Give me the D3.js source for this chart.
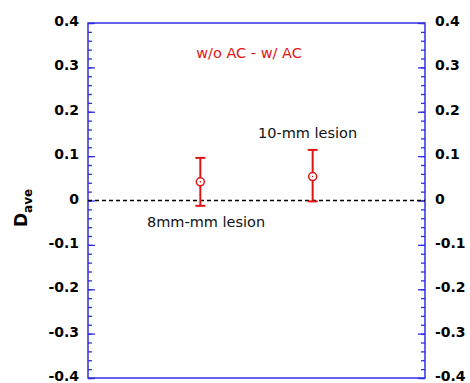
<!DOCTYPE html>
<html><head><meta charset="utf-8">
<script src="https://d3js.org/d3.v7.min.js"></script>
<style>body{margin:0;background:#fff}svg{display:block}</style>
</head><body>
<script>
const categories = ["8mm-mm lesion", "10-mm lesion"];
const xPositions = [1, 2];
const meanValues = [0.042, 0.054];
const upperValues = [0.096, 0.114];
const lowerValues = [-0.012, -0.002];
const yTicks = [0.4, 0.3, 0.2, 0.1, 0, -0.1, -0.2, -0.3, -0.4];
const yTickLabels = ["0.4", "0.3", "0.2", "0.1", "0", "-0.1", "-0.2", "-0.3", "-0.4"];
const titleText = "w/o AC - w/ AC";

const W = 470, H = 383;
const m = {l: 88, r: 425, t: 23, b: 378};
const svg = d3.select("body").append("svg").attr("width", W).attr("height", H);
const x = d3.scaleLinear().domain([0, 3]).range([m.l, m.r]);
const y = d3.scaleLinear().domain([-0.4, 0.4]).range([m.b, m.t]);
const blue = "#2f2fe6", red = "#e01414";
const font = "'DejaVu Sans', sans-serif";

// minor ticks
const minor = d3.range(-0.4, 0.4001, 0.02);
const axL = d3.axisRight(y).tickValues(minor).tickSize(4).tickFormat("");
const axR = d3.axisLeft(y).tickValues(minor).tickSize(4).tickFormat("");
const axLM = d3.axisRight(y).tickValues(yTicks).tickSize(7).tickFormat("");
const axRM = d3.axisLeft(y).tickValues(yTicks).tickSize(7).tickFormat("");
[[axL, m.l], [axLM, m.l], [axR, m.r], [axRM, m.r]].forEach(([a, px]) => {
  const g = svg.append("g").attr("transform", `translate(${px},0)`).call(a);
  g.select(".domain").remove();
  g.selectAll("line").attr("stroke", blue).attr("stroke-width", 1.3);
});

// frame
svg.append("rect").attr("x", m.l).attr("y", m.t).attr("width", m.r - m.l).attr("height", m.b - m.t)
  .attr("fill", "none").attr("stroke", blue).attr("stroke-width", 1.5);

// tick labels
yTicks.forEach((v, i) => {
  svg.append("text").attr("x", m.l - 9).attr("y", y(v) + 3).attr("text-anchor", "end")
    .attr("font-family", font).attr("font-weight", "bold").attr("font-size", 14).text(yTickLabels[i]);
  svg.append("text").attr("x", m.r + 10).attr("y", y(v) + 3).attr("text-anchor", "start")
    .attr("font-family", font).attr("font-weight", "bold").attr("font-size", 14).text(yTickLabels[i]);
});

// zero dashed line
svg.append("line").attr("x1", x(0)).attr("x2", x(3)).attr("y1", y(0)).attr("y2", y(0))
  .attr("stroke", "#000").attr("stroke-width", 1.5).attr("stroke-dasharray", "4,3");

// error bars
xPositions.forEach((xp, i) => {
  const cx = x(xp);
  const g = svg.append("g").attr("stroke", red).attr("stroke-width", 2);
  g.append("line").attr("x1", cx).attr("x2", cx).attr("y1", y(upperValues[i])).attr("y2", y(lowerValues[i]));
  [upperValues[i], lowerValues[i]].forEach(v => {
    g.append("line").attr("x1", cx - 5).attr("x2", cx + 5).attr("y1", y(v)).attr("y2", y(v));
  });
  svg.append("circle").attr("cx", cx).attr("cy", y(meanValues[i])).attr("r", 4)
    .attr("fill", "#fff").attr("stroke", red).attr("stroke-width", 1.5);
  svg.append("circle").attr("cx", cx).attr("cy", y(meanValues[i])).attr("r", 0.8).attr("fill", red);
});

// category labels
svg.append("text").attr("x", 147).attr("y", 227).attr("font-family", font).attr("font-size", 14.5)
  .attr("fill", "#111").text(categories[0]);
svg.append("text").attr("x", 258).attr("y", 138).attr("font-family", font).attr("font-size", 14.5)
  .attr("fill", "#111").text(categories[1]);

// title
svg.append("text").attr("x", 249).attr("y", 58).attr("text-anchor", "middle").attr("font-family", font)
  .attr("font-size", 14.5).attr("fill", red).text(titleText);

// y label
const yl = svg.append("text").attr("transform", "translate(27,208) rotate(-90)").attr("text-anchor", "middle")
  .attr("font-family", font).attr("font-weight", "bold").attr("fill", "#000");
yl.append("tspan").attr("font-size", 17).text("D");
yl.append("tspan").attr("font-size", 12).attr("dy", 5).text("ave");
</script>
</body></html>
